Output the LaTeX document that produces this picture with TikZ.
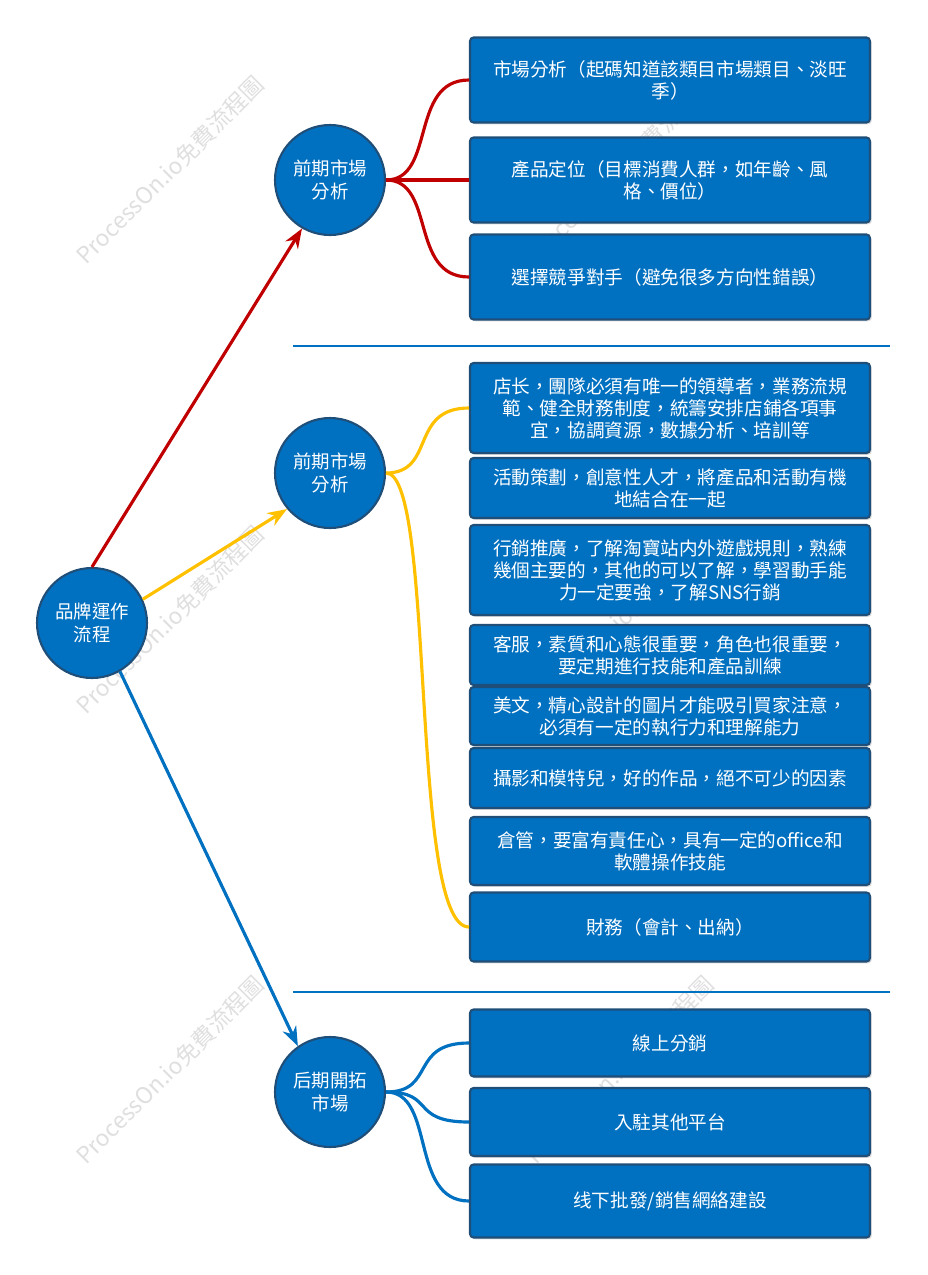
\documentclass[tikz,border=0pt]{standalone}
\usepackage{fontspec}
\setmainfont{Noto Sans CJK TC}
\usetikzlibrary{arrows.meta,positioning,shadows}

\definecolor{boxblue}{RGB}{0,112,192}
\definecolor{edgeblue}{RGB}{31,78,121}
\definecolor{linered}{RGB}{192,0,0}
\definecolor{lineyellow}{RGB}{255,192,0}
\definecolor{lineblue}{RGB}{0,112,192}

\tikzset{
  topic/.style={circle,draw=edgeblue,fill=boxblue,line width=1.2pt,minimum size=2.2cm,
    text=white,align=center,font=\fontsize{10.5}{13}\selectfont,inner sep=0pt},
  item/.style={rectangle,rounded corners=2pt,draw=edgeblue,fill=boxblue,line width=1.2pt,
    text=white,align=center,minimum width=8cm,inner sep=2pt,
    font=\fontsize{10.6}{12.5}\selectfont,drop shadow={shadow xshift=1pt,shadow yshift=-1pt,opacity=0.3}},
  wmark/.style={text=gray!25,rotate=45,font=\fontsize{13}{13}\selectfont}
}

\begin{document}
\begin{tikzpicture}[x=0.02cm,y=-0.02cm,>=Stealth]

    \useasboundingbox (0,0) rectangle (927,1275);

    % watermarks
    \foreach \y in {170,620,1070} {
        \node [wmark] at (170,\y) {ProcessOn.io免費流程圖};
        \node [wmark] at (620,\y) {ProcessOn.io免費流程圖};
    }

    % Topics
    \node [topic] (root) at (92,623) {品牌運作\\流程};
    \node [topic] (early) at (330,180) {前期市場\\分析};
    \node [topic] (team) at (330,473) {前期市場\\分析};
    \node [topic] (later) at (330,1092) {后期開拓\\市場};

    % Group 1
    \node [item,minimum height=1.7cm] (a1) at (670,80) {市場分析（起碼知道該類目市場類目、淡旺\\季）};
    \node [item,minimum height=1.7cm] (a2) at (670,180) {產品定位（目標消費人群，如年齡、風\\格、價位）};
    \node [item,minimum height=1.7cm] (a3) at (670,277) {選擇競爭對手（避免很多方向性錯誤）};

    % Separators
    \draw [lineblue,line width=1.2pt] (293,346) -- (890,346);
    \draw [lineblue,line width=1.2pt] (293,992) -- (890,992);

    % Group 2
    \node [item,minimum height=1.8cm] (b1) at (670,408) {店长，團隊必須有唯一的領導者，業務流規\\範、健全財務制度，統籌安排店鋪各項事\\宜，協調資源，數據分析、培訓等};
    \node [item,minimum height=1.2cm] (b2) at (670,488) {活動策劃，創意性人才，將產品和活動有機\\地結合在一起};
    \node [item,minimum height=1.8cm] (b3) at (670,570) {行銷推廣，了解淘寶站内外遊戲規則，熟練\\幾個主要的，其他的可以了解，學習動手能\\力一定要強，了解SNS行銷};
    \node [item,minimum height=1.2cm] (b4) at (670,655) {客服，素質和心態很重要，角色也很重要，\\要定期進行技能和產品訓練};
    \node [item,minimum height=1.16cm] (b5) at (670,716) {美文，精心設計的圖片才能吸引買家注意，\\必須有一定的執行力和理解能力};
    \node [item,minimum height=1.2cm] (b6) at (670,778) {攝影和模特兒，好的作品，絕不可少的因素};
    \node [item,minimum height=1.36cm] (b7) at (670,851) {倉管，要富有責任心，具有一定的office和\\軟體操作技能};
    \node [item,minimum height=1.38cm] (b8) at (670,927) {財務（會計、出納）};

    % Group 3
    \node [item,minimum height=1.34cm] (c1) at (670,1043) {線上分銷};
    \node [item,minimum height=1.36cm] (c2) at (670,1122) {入駐其他平台};
    \node [item,minimum height=1.46cm] (c3) at (670,1201) {线下批發/銷售網絡建設};

    % Arrows from root
    \draw [->,linered,line width=1.8pt] (root.north) -- (early.-120);
    \draw [->,lineyellow,line width=1.8pt] (root.25) -- (team.-140);
    \draw [->,lineblue,line width=1.8pt] (root.-60) -- (later.125);

    % Branch curves
    \foreach \n in {a1,a2,a3}
        \draw [linered,line width=1.8pt] (early.east) .. controls +(1cm,0) and ([xshift=-1.2cm]\n.west) .. (\n.west);
    \foreach \n in {b1,b8}
        \draw [lineyellow,line width=1.8pt] (team.east) .. controls +(1cm,0) and ([xshift=-1.2cm]\n.west) .. (\n.west);
    \foreach \n in {c1,c2,c3}
        \draw [lineblue,line width=1.8pt] (later.east) .. controls +(1cm,0) and ([xshift=-1.2cm]\n.west) .. (\n.west);

\end{tikzpicture}
\end{document}
